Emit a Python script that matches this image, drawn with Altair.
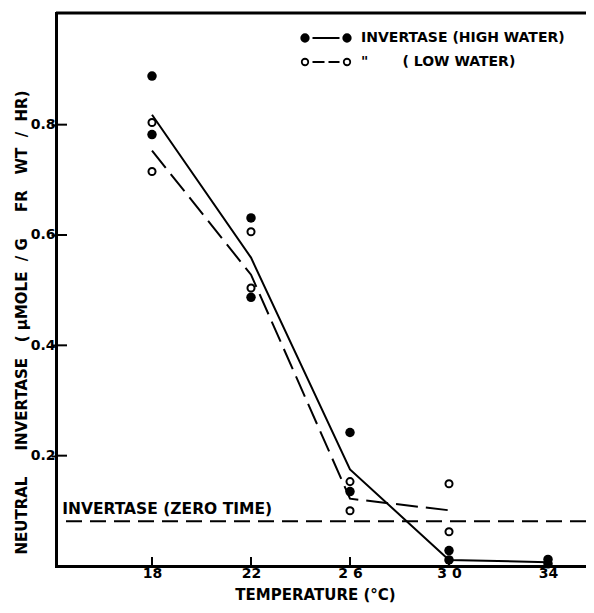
import altair as alt
import pandas as pd

NB = "\u00a0"
FONT = "DejaVu Sans"

# ---------------- data ----------------
temps = [18, 22, 26, 30, 34]
x_tick_labels = ["18", "22", "2 6", "3 0", "34"]
y_ticks = [0.2, 0.4, 0.6, 0.8]

# individual determinations, high water (filled circles)
high_x = [18, 18, 22, 22, 26, 26, 30, 30, 34, 34]
high_y = [0.888, 0.782, 0.631, 0.487, 0.242, 0.135, 0.028, 0.011, 0.012, 0.004]
# individual determinations, low water (open circles)
low_x = [18, 18, 22, 22, 26, 26, 30, 30]
low_y = [0.804, 0.715, 0.606, 0.504, 0.153, 0.100, 0.149, 0.062]

# drawn curves
high_line_x = [18, 22, 26, 30, 34]
high_line_y = [0.818, 0.559, 0.175, 0.011, 0.007]
low_line_x = [18, 22, 26, 30]
low_line_y = [0.753, 0.528, 0.122, 0.101]

zero_time_level = [0.081]
zero_label_text = ["INVERTASE (ZERO TIME)"]
zero_label_x = [14.37]
zero_label_y = [0.104]

legend_labels = ["INVERTASE (HIGH WATER)",
                 NB * 11 + '"' + NB * 7 + "( LOW WATER)"]

y_title = ("NEUTRAL" + NB * 5 + "INVERTASE" + NB * 3 + "(" + NB + "\u00b5MOLE" + NB * 2 + "/" + NB
           + "G" + NB * 5 + "FR" + NB * 3 + "WT" + NB * 2 + "/" + NB * 2 + "HR)")
x_title = "TEMPERATURE (\u00b0C)"

# ---------------- scales ----------------
W, H = 530, 553
XMIN = 14.121
XMAX = XMIN + W / 24.75
YMAX = 1.0024

xs = alt.Scale(domain=[XMIN, XMAX], nice=False, zero=False)
ys = alt.Scale(domain=[0, YMAX], nice=False, zero=False)

lab_expr = ""
for v, l in zip(temps, x_tick_labels):
    lab_expr += f"datum.value == {v} ? '{l}' : "
lab_expr += "datum.label"

x_axis = alt.Axis(values=temps, labelExpr=lab_expr, ticks=False, tickSize=0, grid=False,
                  domainColor="black", domainWidth=3, domainCap="square",
                  labelFont=FONT, labelFontSize=14, labelFontWeight="bold", labelColor="black",
                  labelPadding=0, labelBaseline="top",
                  title=x_title, titleFont=FONT, titleFontSize=15, titleFontWeight="bold",
                  titleColor="black", titleX=259, titleY=28, titleAlign="center",
                  titleBaseline="middle")
y_axis = alt.Axis(values=y_ticks, format=".1f", grid=False, ticks=True, tickSize=5,
                  tickWidth=2, tickColor="black",
                  domainColor="black", domainWidth=3, domainCap="square",
                  labelFont=FONT, labelFontSize=14, labelFontWeight="bold", labelColor="black",
                  labelPadding=-4,
                  title=y_title, titleFont=FONT, titleFontSize=15, titleFontWeight="bold",
                  titleColor="black", titleX=-35, titleY=309, titleAngle=270,
                  titleAlign="center", titleBaseline="middle")

X = lambda f: alt.X(f, type="quantitative", scale=xs, axis=x_axis)
Y = lambda f: alt.Y(f, type="quantitative", scale=ys, axis=y_axis)

high_pts = pd.DataFrame({"t": high_x, "v": high_y})
low_pts = pd.DataFrame({"t": low_x, "v": low_y})
high_ln = pd.DataFrame({"t": high_line_x, "v": high_line_y})
low_ln = pd.DataFrame({"t": low_line_x, "v": low_line_y})
ticks_y = pd.DataFrame({"v": y_ticks})
ticks_x = pd.DataFrame({"t": temps})
zero_df = pd.DataFrame({"v": zero_time_level})
zlab = pd.DataFrame({"t": zero_label_x, "v": zero_label_y, "txt": zero_label_text})
leg_df = pd.DataFrame({"series": legend_labels})

# ---------------- legend symbols (unit coordinates) ----------------
def circ(cx, r):
    k = 0.5523 * r
    f = lambda a: f"{a:.3f}"
    return (f"M{f(cx + r)},0 C{f(cx + r)},{f(k)} {f(cx + k)},{f(r)} {f(cx)},{f(r)} "
            f"C{f(cx - k)},{f(r)} {f(cx - r)},{f(k)} {f(cx - r)},0 "
            f"C{f(cx - r)},{f(-k)} {f(cx - k)},{f(-r)} {f(cx)},{f(-r)} "
            f"C{f(cx + k)},{f(-r)} {f(cx + r)},{f(-k)} {f(cx + r)},0 Z ")

path_high = circ(-4.2, 0.75) + circ(4.2, 0.75) + "M-2.7,0 L2.7,0"
path_low = circ(-4.2, 0.65) + circ(4.2, 0.65) + "M-2.7,0 L-0.3,0 M0.5,0 L2.7,0"

leg = alt.Legend(title=None, orient="none", legendX=263, legendY=18, symbolSize=100,
                 symbolStrokeWidth=1.8, symbolStrokeColor="black", labelOffset=28.1,
                 rowPadding=9, padding=0, labelFont=FONT, labelFontSize=14,
                 labelFontWeight="bold", labelColor="black", labelLimit=400)

# ---------------- layers ----------------
top_line = alt.Chart(zero_df).mark_rule(color="black", strokeWidth=3).encode(
    y=alt.datum(YMAX, type="quantitative", scale=ys, axis=y_axis))

zero_rule = alt.Chart(zero_df).mark_rule(color="black", strokeWidth=2, strokeDash=[16, 8]).encode(
    y=Y("v"))

zero_text = alt.Chart(zlab).mark_text(align="left", baseline="middle", font=FONT, fontSize=15.5,
                                      fontWeight="bold", color="black").encode(
    x=X("t"), y=Y("v"), text="txt:N")

tick_len_x = 11 / (W / (XMAX - XMIN))
tick_len_y = 9 / (H / YMAX)
yticks = alt.Chart(ticks_y).mark_rule(color="black", strokeWidth=2).encode(
    x=alt.datum(XMIN, type="quantitative", scale=xs, axis=x_axis),
    x2=alt.datum(XMIN + tick_len_x), y=Y("v"))
xticks = alt.Chart(ticks_x).mark_rule(color="black", strokeWidth=2).encode(
    x=X("t"), y=alt.datum(0, type="quantitative", scale=ys, axis=y_axis),
    y2=alt.datum(tick_len_y))

hl = alt.Chart(high_ln).mark_line(color="black", strokeWidth=2).encode(x=X("t"), y=Y("v"))
ll = alt.Chart(low_ln).mark_line(color="black", strokeWidth=2, strokeDash=[22, 8]).encode(
    x=X("t"), y=Y("v"))

hp = alt.Chart(high_pts).mark_point(shape="circle", filled=True, color="black", size=90,
                                     opacity=1).encode(x=X("t"), y=Y("v"))
lp = alt.Chart(low_pts).mark_point(shape="circle", fill="white", stroke="black", strokeWidth=2,
                                    size=50, opacity=1).encode(x=X("t"), y=Y("v"))

legend_layer = alt.Chart(leg_df).transform_filter("false").mark_point(
    strokeWidth=1.8, opacity=1).encode(
    shape=alt.Shape("series:N", scale=alt.Scale(domain=legend_labels,
                                                range=[path_high, path_low]), legend=leg),
    fill=alt.Fill("series:N", scale=alt.Scale(domain=legend_labels,
                                              range=["black", "white"]), legend=leg),
    stroke=alt.Stroke("series:N", scale=alt.Scale(domain=legend_labels,
                                                  range=["black", "black"]), legend=leg))

chart = alt.layer(top_line, zero_rule, zero_text, yticks, xticks, hl, ll, hp, lp,
                  legend_layer).properties(
    width=W, height=H,
    padding={"left": 48, "top": 5, "right": 0, "bottom": 39},
    autosize=alt.AutoSizeParams(type="none"),
    background="white",
).configure_view(stroke=None)

chart.save("out.html", embed_options={"renderer": "svg", "actions": False})
